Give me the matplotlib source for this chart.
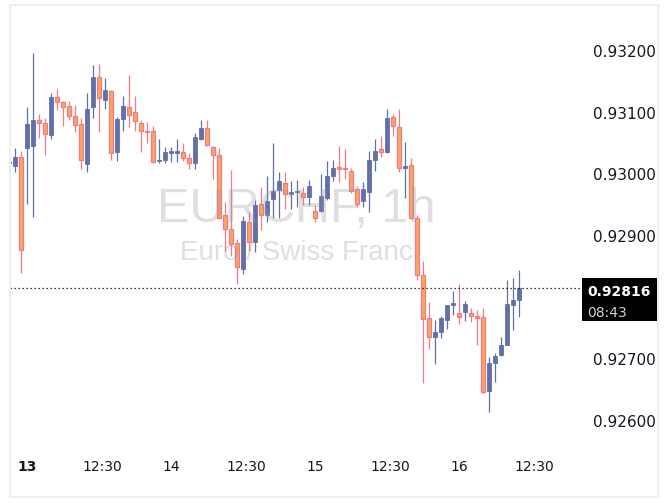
import numpy as np
import matplotlib
matplotlib.use("Agg")
from matplotlib import pyplot as plt
from matplotlib.patches import Rectangle

# hourly EURCHF candles, hours counted from the 13th 00:00
hours = np.arange(-3, 83)

opens = [0.93019, 0.93014, 0.93028, 0.93043, 0.93046, 0.93088, 0.93083, 0.93064, 0.93125, 0.93117,
         0.93111, 0.93094, 0.93082, 0.93017, 0.93110, 0.93158, 0.93121, 0.93135, 0.93037, 0.93089,
         0.93109, 0.93101, 0.93083, 0.93070, 0.93071, 0.93022, 0.93023, 0.93036, 0.93036, 0.93037,
         0.93026, 0.93018, 0.93058, 0.93075, 0.93045, 0.93032, 0.92934, 0.92911, 0.92888, 0.92846,
         0.92922, 0.92890, 0.92952, 0.92934, 0.92960, 0.92974, 0.92986, 0.92968, 0.92971, 0.92969,
         0.92963, 0.92940, 0.92940, 0.92962, 0.92997, 0.93011, 0.93010, 0.93005, 0.92976, 0.92957,
         0.92972, 0.93024, 0.93041, 0.93036, 0.93093, 0.93077, 0.93011, 0.93015, 0.92929, 0.92836,
         0.92767, 0.92736, 0.92745, 0.92763, 0.92788, 0.92775, 0.92776, 0.92775, 0.92771, 0.92768,
         0.92648, 0.92694, 0.92707, 0.92724, 0.92788, 0.92796]
highs = [0.93022, 0.93043, 0.93038, 0.93109, 0.93197, 0.93098, 0.93091, 0.93132, 0.93138, 0.93119,
         0.93119, 0.93112, 0.93092, 0.93132, 0.93177, 0.93179, 0.93156, 0.93137, 0.93093, 0.93127,
         0.93161, 0.93127, 0.93088, 0.93085, 0.93078, 0.93058, 0.93044, 0.93044, 0.93057, 0.93051,
         0.93034, 0.93067, 0.93088, 0.93088, 0.93046, 0.93042, 0.92955, 0.93007, 0.92895, 0.92932,
         0.92939, 0.92958, 0.92980, 0.92997, 0.93051, 0.93003, 0.93004, 0.92989, 0.92991, 0.92979,
         0.92991, 0.92950, 0.93001, 0.93022, 0.93023, 0.93046, 0.93041, 0.93011, 0.92981, 0.92988,
         0.93038, 0.93057, 0.93062, 0.93106, 0.93098, 0.93106, 0.93052, 0.93026, 0.92934, 0.92859,
         0.92793, 0.92763, 0.92770, 0.92788, 0.92811, 0.92822, 0.92794, 0.92783, 0.92780, 0.92784,
         0.92703, 0.92710, 0.92737, 0.92829, 0.92832, 0.92845]
lows = [0.93018, 0.93004, 0.92840, 0.92952, 0.92931, 0.93059, 0.93032, 0.93058, 0.93105, 0.93079,
        0.93088, 0.93069, 0.93009, 0.93003, 0.93092, 0.93068, 0.93106, 0.93024, 0.93022, 0.93071,
        0.93077, 0.93071, 0.93037, 0.93051, 0.93019, 0.93019, 0.93018, 0.93020, 0.93020, 0.93022,
        0.93008, 0.93008, 0.93056, 0.93046, 0.92992, 0.92928, 0.92875, 0.92867, 0.92822, 0.92838,
        0.92875, 0.92874, 0.92910, 0.92923, 0.92930, 0.92930, 0.92943, 0.92943, 0.92947, 0.92950,
        0.92950, 0.92923, 0.92939, 0.92958, 0.92990, 0.92988, 0.92992, 0.92970, 0.92947, 0.92947,
        0.92939, 0.93005, 0.93028, 0.93035, 0.93062, 0.93003, 0.92962, 0.92928, 0.92829, 0.92661,
        0.92716, 0.92693, 0.92734, 0.92750, 0.92772, 0.92757, 0.92762, 0.92760, 0.92724, 0.92645,
        0.92614, 0.92664, 0.92706, 0.92723, 0.92747, 0.92768]
closes = [0.93020, 0.93028, 0.92878, 0.93082, 0.93088, 0.93083, 0.93065, 0.93125, 0.93118, 0.93110,
          0.93094, 0.93080, 0.93023, 0.93106, 0.93158, 0.93123, 0.93137, 0.93035, 0.93090, 0.93111,
          0.93097, 0.93086, 0.93071, 0.93069, 0.93020, 0.93023, 0.93037, 0.93037, 0.93037, 0.93026,
          0.93018, 0.93061, 0.93075, 0.93047, 0.93032, 0.92929, 0.92912, 0.92887, 0.92849, 0.92924,
          0.92890, 0.92950, 0.92934, 0.92957, 0.92973, 0.92989, 0.92968, 0.92971, 0.92973, 0.92963,
          0.92981, 0.92930, 0.92965, 0.92997, 0.93011, 0.93010, 0.93009, 0.92973, 0.92952, 0.92976,
          0.93023, 0.93038, 0.93036, 0.93091, 0.93078, 0.93011, 0.93013, 0.92929, 0.92836, 0.92765,
          0.92737, 0.92745, 0.92767, 0.92788, 0.92792, 0.92768, 0.92789, 0.92770, 0.92767, 0.92647,
          0.92694, 0.92705, 0.92724, 0.92789, 0.92796, 0.92816]

tick_hours = [0, 12.5, 24, 36.5, 48, 60.5, 72, 84.5]
tick_labels = ['13', '12:30', '14', '12:30', '15', '12:30', '16', '12:30']
# 0.92800 sits under the last-price box, so it is not shown
price_ticks = [0.926, 0.927, 0.929, 0.930, 0.931, 0.932]
last_price_label = '0.92816'
countdown = '08:43'

up_color = '#6370a8'
down_fill = '#f8a75e'
down_edge = '#f27a86'
text_color = '#131722'

W, H = 670, 503
fig = plt.figure(figsize=(W / 100, H / 100), dpi=100)

def fx(px):
    return px / W

def fy(py):
    return 1 - py / H

# chart area in pixels: x 10..582, y 5..450
ax = fig.add_axes([fx(10), fy(450), fx(582) - fx(10), fy(5) - fy(450)])
for s in ax.spines.values():
    s.set_visible(False)

o = np.array(opens)
h = np.array(highs)
l = np.array(lows)
c = np.array(closes)
up = c >= o

ax.vlines(hours[up], l[up], h[up], color=up_color, lw=0.9, zorder=2)
ax.vlines(hours[~up], l[~up], h[~up], color=down_edge, lw=0.9, zorder=2)

min_h = 0.000024
body_lo = np.minimum(o, c)
body_h = np.abs(c - o)
small = body_h < min_h
body_lo = np.where(small, (o + c) / 2 - min_h / 2, body_lo)
body_h = np.where(small, min_h, body_h)

ax.bar(hours[up], body_h[up], bottom=body_lo[up], width=0.72,
       color=up_color, edgecolor=up_color, lw=0.6, zorder=3)
ax.bar(hours[~up], body_h[~up], bottom=body_lo[~up], width=0.72,
       color=down_fill, edgecolor=down_edge, lw=0.9, zorder=3)

# last price dotted line
ax.axhline(closes[-1], color='black', lw=0.9, ls=(0, (1, 2.2)), zorder=4)

# watermark
ax.text(0.5, 0.512, 'EURCHF, 1h', transform=ax.transAxes, ha='center', va='baseline',
        fontsize=35, family='Liberation Sans', color='#9598a1', alpha=0.3, zorder=5)
ax.text(0.5, 0.427, 'Euro / Swiss Franc', transform=ax.transAxes, ha='center', va='baseline',
        fontsize=20, family='Liberation Sans', color='#9598a1', alpha=0.3, zorder=5)

ax.set_xlim((10 - 27) / 6, (582 - 27) / 6)
ax.set_ylim(0.932 - 399 / 61667, 0.932 + 46 / 61667)

ax.set_xticks(tick_hours)
ax.set_xticklabels(tick_labels, fontsize=10, color=text_color)
ax.get_xticklabels()[0].set_fontweight('bold')
ax.tick_params(axis='x', length=0, pad=7)

ax.yaxis.tick_right()
ax.set_yticks(price_ticks)
ax.set_yticklabels([f'{p:.5f}' for p in price_ticks], fontsize=11, color=text_color)
ax.tick_params(axis='y', length=0, pad=8)

# outer frame
fig.add_artist(Rectangle((fx(10), fy(497)), fx(658) - fx(10), fy(5) - fy(497),
                         transform=fig.transFigure, fill=False, edgecolor='#eeeeee', lw=1.5))

# last price box on the price scale
fig.add_artist(Rectangle((fx(582), fy(321)), fx(657) - fx(582), fy(278) - fy(321),
                         transform=fig.transFigure, facecolor='black', edgecolor='none', zorder=10))
fig.text(fx(587), fy(296.5), last_price_label, ha='left', va='baseline', fontsize=10,
         fontweight='bold', color='white', zorder=11)
fig.text(fx(587), fy(317), countdown, ha='left', va='baseline', fontsize=10,
         color='#d0d0d0', zorder=11)

fig.savefig('out.png', dpi=100)
